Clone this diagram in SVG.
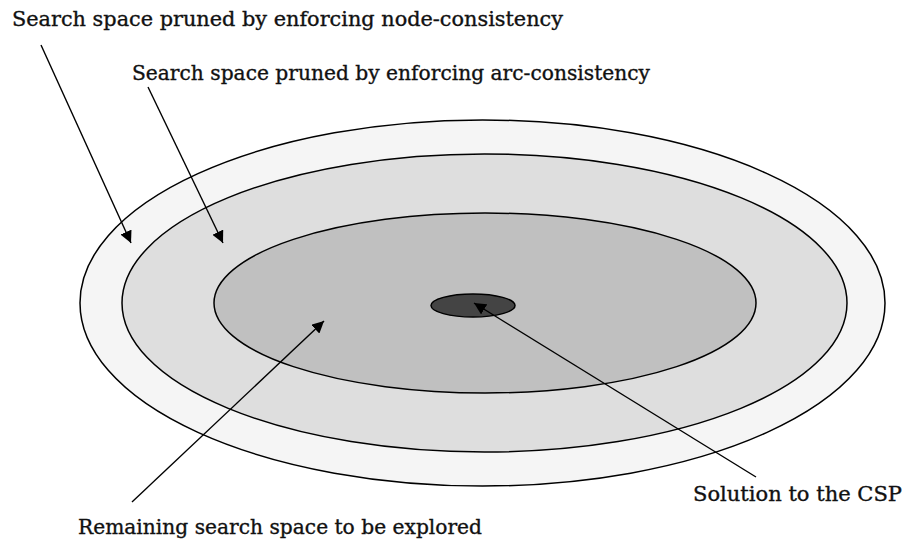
<svg xmlns="http://www.w3.org/2000/svg" width="906" height="540" viewBox="0 0 906 540">
<defs>
<style>
.lbl{font-family:"DejaVu Serif","Liberation Serif",serif;font-size:20px;fill:#111;stroke:#111;stroke-width:0.35;}
.reg{stroke:#000;stroke-width:1.5;}
.conn line{stroke:#000;stroke-width:1.4;fill:none;}
</style>
<marker id="ah" viewBox="0 0 10 10" refX="10" refY="5" markerWidth="12" markerHeight="12" markerUnits="userSpaceOnUse" orient="auto">
<path d="M0,0 L10,5 L0,10 z" fill="#000"/>
</marker>
</defs>
<rect width="906" height="540" fill="#fff"/>
<g id="node-consistency-region"><ellipse class="reg" cx="482.5" cy="303" rx="402.5" ry="183" fill="#f5f5f5"/></g>
<g id="arc-consistency-region"><ellipse class="reg" cx="484.5" cy="303" rx="362.5" ry="149" fill="#dedede"/></g>
<g id="remaining-region"><ellipse class="reg" cx="485" cy="303" rx="271" ry="90" fill="#c0c0c0"/></g>
<g id="solution"><ellipse class="reg" cx="473" cy="305.5" rx="42" ry="11.5" fill="#444"/></g>
<g class="conn" id="connectors">
<line x1="41" y1="45" x2="131" y2="243" marker-end="url(#ah)"/>
<line x1="148" y1="87" x2="223" y2="243" marker-end="url(#ah)"/>
<line x1="132" y1="502" x2="324" y2="321" marker-end="url(#ah)"/>
<line x1="756" y1="477" x2="474" y2="303" marker-end="url(#ah)"/>
</g>
<g id="label-node"><text class="lbl" x="12" y="26" textLength="551" lengthAdjust="spacingAndGlyphs">Search space pruned by enforcing node-consistency</text></g>
<g id="label-arc"><text class="lbl" x="132" y="80" textLength="518" lengthAdjust="spacingAndGlyphs">Search space pruned by enforcing arc-consistency</text></g>
<g id="label-remaining"><text class="lbl" x="78" y="534" textLength="404" lengthAdjust="spacingAndGlyphs">Remaining search space to be explored</text></g>
<g id="label-solution"><text class="lbl" x="693" y="501" textLength="209" lengthAdjust="spacingAndGlyphs">Solution to the CSP</text></g>
</svg>
